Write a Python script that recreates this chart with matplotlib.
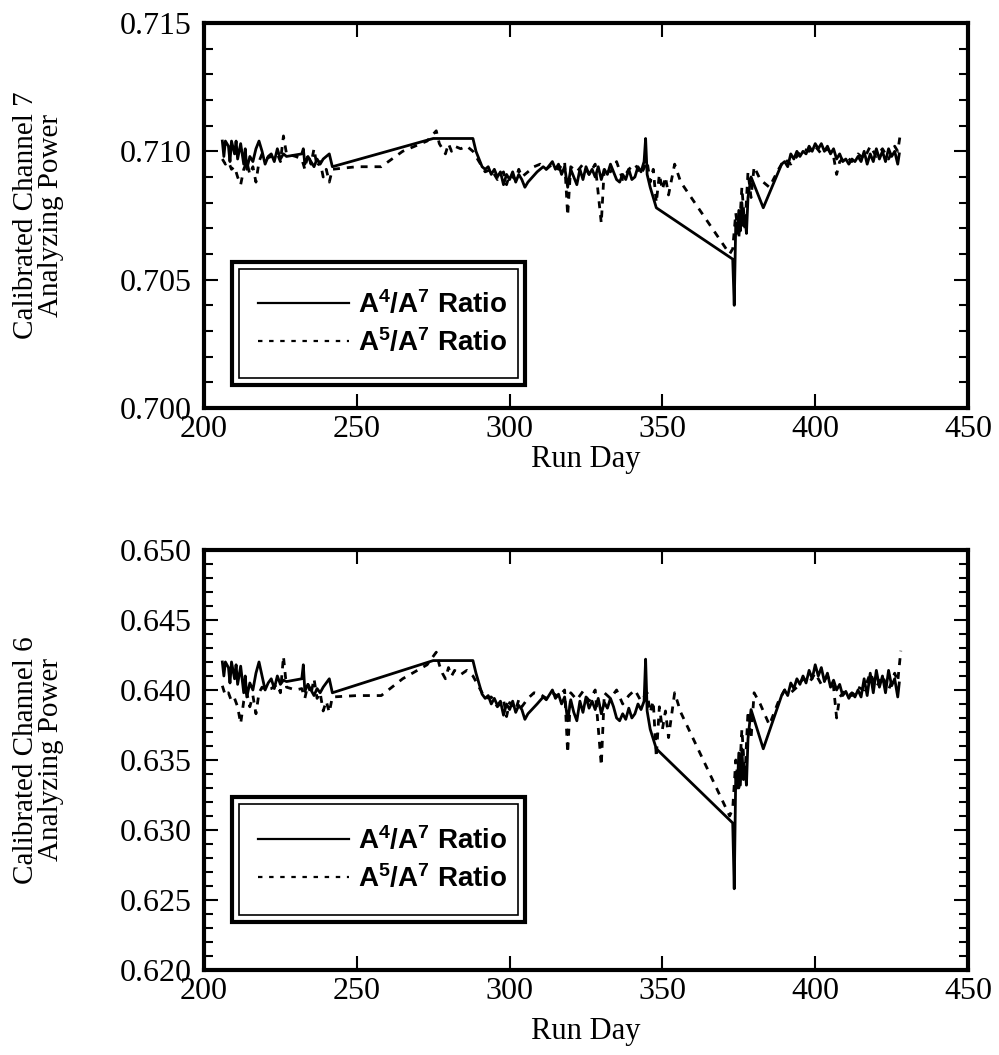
import matplotlib
matplotlib.use("Agg")
import matplotlib.pyplot as plt
from matplotlib.patches import Rectangle
from matplotlib.ticker import MultipleLocator, FormatStrFormatter
from matplotlib.lines import Line2D

plt.rcParams['font.family'] = ['Liberation Serif', 'DejaVu Serif']
plt.rcParams['mathtext.fontset'] = 'custom'
plt.rcParams['mathtext.rm'] = 'Liberation Sans:bold'
plt.rcParams['mathtext.it'] = 'Liberation Sans:bold'

# ---- data ----------------------------------------------------------------
# A4/A7 ratio (solid)
days_a4 = [206, 206.5, 207, 208, 208.5, 209, 210, 210.5, 211, 212, 213, 213.5, 214, 215, 216,
           217, 218, 219, 220, 221, 222, 223, 224, 225, 226, 227, 232, 232.5, 233, 234, 235,
           236, 237, 238, 239, 241, 242, 275, 288, 289, 291, 292, 293, 294, 295, 296, 297,
           298, 299, 300, 301, 302, 303, 304, 305, 306, 309, 311, 312, 314, 315, 316, 317,
           318, 319, 320, 321, 322, 323, 324, 325, 326, 327, 328, 329, 330, 331, 332, 333,
           334, 335, 336, 337, 338, 339, 340, 341, 342, 343, 344, 344.5, 345, 346, 348, 373,
           373.5, 374, 374.5, 375, 375.5, 376, 376.5, 377, 377.5, 378, 379, 383, 389, 390,
           391, 392, 393, 394, 395, 396, 397, 398, 399, 400, 401, 402, 403, 404, 405, 406,
           407, 408, 409, 410, 411, 412, 413, 414, 415, 416, 417, 418, 419, 420, 421, 422,
           423, 424, 425, 426, 427, 427.5]
ch7_a4 = [0.7104, 0.7098, 0.7104, 0.7102, 0.7096, 0.7104, 0.7099, 0.7104, 0.7097, 0.7103,
          0.7095, 0.7101, 0.7093, 0.7098, 0.7096, 0.7101, 0.7104, 0.7100, 0.7095, 0.7098,
          0.7099, 0.7096, 0.7101, 0.7097, 0.7099, 0.7098, 0.7099, 0.7101, 0.7095, 0.7098,
          0.7096, 0.7094, 0.7097, 0.7095, 0.7097, 0.7099, 0.7094, 0.7105, 0.7105, 0.7100,
          0.7094, 0.7093, 0.7094, 0.7091, 0.7093, 0.7090, 0.7092, 0.7087, 0.7091, 0.7089,
          0.7092, 0.7088, 0.7091, 0.7089, 0.7086, 0.7088, 0.7092, 0.7094, 0.7093, 0.7096,
          0.7093, 0.7095, 0.7091, 0.7094, 0.7086, 0.7093, 0.7090, 0.7087, 0.7093, 0.7089,
          0.7094, 0.7091, 0.7093, 0.7090, 0.7094, 0.7089, 0.7093, 0.7091, 0.7095, 0.7092,
          0.7089, 0.7088, 0.7091, 0.7089, 0.7093, 0.7089, 0.7090, 0.7094, 0.7092, 0.7096,
          0.7105, 0.7091, 0.7086, 0.7078, 0.7058, 0.7040, 0.7072, 0.7068, 0.7077, 0.7069,
          0.7080, 0.7071, 0.7075, 0.7068, 0.7082, 0.7090, 0.7078, 0.7095, 0.7096, 0.7094,
          0.7099, 0.7097, 0.7100, 0.7098, 0.7100, 0.7099, 0.7102, 0.7100, 0.7103, 0.7101,
          0.7103, 0.7100, 0.7102, 0.7099, 0.7101, 0.7097, 0.7099, 0.7096, 0.7097, 0.7095,
          0.7097, 0.7096, 0.7098, 0.7096, 0.7100, 0.7095, 0.7099, 0.7096, 0.7101, 0.7097,
          0.7100, 0.7096, 0.7101, 0.7098, 0.7100, 0.7095, 0.7099]
ch6_a4 = [0.6420, 0.6410, 0.6420, 0.6416, 0.6405, 0.6420, 0.6408, 0.6418, 0.6404, 0.6417,
          0.6398, 0.6410, 0.6395, 0.6405, 0.6400, 0.6412, 0.6420, 0.6410, 0.6400, 0.6405,
          0.6408, 0.6401, 0.6410, 0.6404, 0.6407, 0.6406, 0.6408, 0.6418, 0.6399, 0.6404,
          0.6400, 0.6396, 0.6401, 0.6398, 0.6402, 0.6408, 0.6398, 0.6421, 0.6421, 0.6412,
          0.6397, 0.6394, 0.6396, 0.6390, 0.6394, 0.6389, 0.6392, 0.6382, 0.6390, 0.6386,
          0.6392, 0.6384, 0.6389, 0.6386, 0.6379, 0.6383, 0.6390, 0.6395, 0.6393, 0.6400,
          0.6394, 0.6397, 0.6390, 0.6395, 0.6378, 0.6393, 0.6384, 0.6378, 0.6392, 0.6384,
          0.6395, 0.6387, 0.6392, 0.6386, 0.6394, 0.6383, 0.6391, 0.6387, 0.6394, 0.6388,
          0.6380, 0.6378, 0.6383, 0.6379, 0.6387, 0.6380, 0.6383, 0.6390, 0.6386, 0.6392,
          0.6422, 0.6385, 0.6372, 0.6358, 0.6305, 0.6258, 0.6340, 0.6330, 0.6355, 0.6332,
          0.6358, 0.6336, 0.6345, 0.6332, 0.6365, 0.6386, 0.6358, 0.6396, 0.6400, 0.6396,
          0.6405, 0.6401, 0.6408, 0.6404, 0.6410, 0.6405, 0.6414, 0.6408, 0.6418, 0.6410,
          0.6416, 0.6406, 0.6412, 0.6402, 0.6407, 0.6400, 0.6404, 0.6396, 0.6399, 0.6394,
          0.6398, 0.6395, 0.6400, 0.6395, 0.6408, 0.6396, 0.6412, 0.6398, 0.6414, 0.6402,
          0.6410, 0.6398, 0.6414, 0.6403, 0.6408, 0.6395, 0.6405]

# A5/A7 ratio (dashed)
days_a5 = [206, 207, 208, 209, 210, 211, 212, 213, 214, 215, 216, 217, 218, 219, 220, 222,
           224, 225, 226, 227, 230, 232, 233, 234, 235, 236, 237, 238, 239, 240, 241, 242,
           250, 258, 265, 273, 276, 277, 278, 279, 280, 281, 282, 284, 286, 288, 290, 292,
           294, 296, 298, 299, 300, 302, 303, 304, 306, 308, 310, 312, 314, 316, 318, 319,
           320, 322, 324, 326, 328, 330, 331, 333, 335, 337, 339, 341, 343, 345, 346, 347,
           348, 349, 350, 351, 352, 353, 354, 356, 372, 373, 374, 375, 376, 377, 378, 379,
           380, 382, 385, 388, 390, 392, 394, 396, 398, 400, 402, 404, 406, 407, 408, 410,
           412, 414, 416, 418, 420, 422, 424, 426, 427, 428]
ch7_a5 = [0.7097, 0.7095, 0.7096, 0.7093, 0.7094, 0.7090, 0.7087, 0.7093, 0.7096, 0.7091,
          0.7094, 0.7088, 0.7096, 0.7099, 0.7097, 0.7098, 0.7099, 0.7096, 0.7106, 0.7099,
          0.7098, 0.7097, 0.7093, 0.7099, 0.7095, 0.7101, 0.7094, 0.7096, 0.7090, 0.7093,
          0.7088, 0.7093, 0.7094, 0.7094, 0.7100, 0.7104, 0.7108, 0.7103, 0.7101, 0.7099,
          0.7103, 0.7100, 0.7102, 0.7101, 0.7102, 0.7100, 0.7096, 0.7092, 0.7093, 0.7089,
          0.7092, 0.7087, 0.7091, 0.7089, 0.7093, 0.7090, 0.7092, 0.7094, 0.7095, 0.7093,
          0.7095, 0.7093, 0.7096, 0.7075, 0.7094, 0.7092, 0.7095, 0.7091, 0.7095, 0.7072,
          0.7094, 0.7092, 0.7096, 0.7089, 0.7093, 0.7095, 0.7091, 0.7096, 0.7088, 0.7093,
          0.7080, 0.7091, 0.7085, 0.7090, 0.7083, 0.7089, 0.7095, 0.7088, 0.7060, 0.7062,
          0.7076, 0.7066, 0.7086, 0.7070, 0.7092, 0.7082, 0.7094, 0.7089, 0.7086, 0.7093,
          0.7097, 0.7095, 0.7098, 0.7101, 0.7100, 0.7102, 0.7099, 0.7101, 0.7098, 0.7091,
          0.7096, 0.7098, 0.7096, 0.7099, 0.7097, 0.7102, 0.7098, 0.7101, 0.7097, 0.7102,
          0.7100, 0.7108]
ch6_a5 = [0.6403, 0.6396, 0.6398, 0.6392, 0.6394, 0.6388, 0.6376, 0.6392, 0.6398, 0.6388,
          0.6396, 0.6383, 0.6398, 0.6402, 0.6400, 0.6401, 0.6404, 0.6398, 0.6424, 0.6402,
          0.6400, 0.6401, 0.6394, 0.6404, 0.6397, 0.6408, 0.6394, 0.6398, 0.6385, 0.6392,
          0.6384, 0.6395, 0.6396, 0.6396, 0.6408, 0.6418, 0.6427, 0.6418, 0.6412, 0.6408,
          0.6416, 0.6410, 0.6414, 0.6411, 0.6414, 0.6410, 0.6402, 0.6394, 0.6395, 0.6388,
          0.6393, 0.6381, 0.6391, 0.6386, 0.6393, 0.6388, 0.6394, 0.6398, 0.6397, 0.6394,
          0.6398, 0.6395, 0.6400, 0.6355, 0.6398, 0.6393, 0.6399, 0.6392, 0.6400, 0.6346,
          0.6398, 0.6394, 0.6400, 0.6390, 0.6396, 0.6400, 0.6392, 0.6398, 0.6384, 0.6392,
          0.6352, 0.6388, 0.6372, 0.6385, 0.6366, 0.6382, 0.6398, 0.6384, 0.6310, 0.6315,
          0.6350, 0.6330, 0.6372, 0.6338, 0.6385, 0.6365, 0.6398, 0.6390, 0.6375, 0.6392,
          0.6400, 0.6398, 0.6402, 0.6408, 0.6405, 0.6412, 0.6404, 0.6410, 0.6402, 0.6380,
          0.6395, 0.6400, 0.6396, 0.6402, 0.6400, 0.6412, 0.6402, 0.6410, 0.6400, 0.6412,
          0.6406, 0.6428]

panels = [
    (ch7_a4, ch7_a5, (0.700, 0.715), "Calibrated Channel 7\nAnalyzing Power"),
    (ch6_a4, ch6_a5, (0.620, 0.650), "Calibrated Channel 6\nAnalyzing Power"),
]
labels = [r"A$^{\mathrm{4}}$/A$^{\mathrm{7}}$ Ratio", r"A$^{\mathrm{5}}$/A$^{\mathrm{7}}$ Ratio"]

# ---- figure ---------------------------------------------------------------
fig = plt.figure(figsize=(9.99, 10.55), dpi=100)
# [left, bottom, width, height] in figure fraction
rects = [[0.2042, 0.6133, 0.7648, 0.3649],
         [0.2042, 0.0806, 0.7648, 0.3981]]
legend_boxes = [(0.037, 0.06, 0.383, 0.32), (0.037, 0.115, 0.383, 0.297)]
xlabel_pads = [1, 8]

for (a4, a5, ylim, ylab), r, lb, xpad in zip(panels, rects, legend_boxes, xlabel_pads):
    ax = fig.add_axes(r)
    ax.plot(days_a4, a4, color='black', lw=2.0)
    ax.plot(days_a5, a5, color='black', lw=2.0, dashes=(2.5, 2.5))

    ax.set_xlim(200, 450)
    ax.set_ylim(*ylim)
    ax.xaxis.set_major_locator(MultipleLocator(50))
    ax.yaxis.set_major_locator(MultipleLocator(0.005))
    ax.yaxis.set_minor_locator(MultipleLocator(0.001))
    ax.yaxis.set_major_formatter(FormatStrFormatter('%.3f'))
    ax.tick_params(which='both', direction='in', top=True, right=True,
                   labelsize=23, width=1.5)
    ax.tick_params(axis='y', pad=9)
    ax.tick_params(axis='x', pad=5)
    ax.tick_params(which='major', length=10)
    ax.tick_params(which='minor', length=6.5)
    for s in ax.spines.values():
        s.set_linewidth(3)

    ax.set_xlabel("Run Day", fontsize=22, labelpad=xpad)
    ax.set_ylabel(ylab, fontsize=21, linespacing=0.95)
    ax.yaxis.set_label_coords(-0.183, 0.5)

    # legend with a double border
    x0, y0, w, h = lb
    outer = Rectangle((x0, y0), w, h, transform=ax.transAxes, facecolor='white',
                      edgecolor='black', lw=3, zorder=5)
    dx, dy = 0.009, 0.018 * 385 / (r[3] * 1055)
    inner = Rectangle((x0 + dx, y0 + dy), w - 2 * dx, h - 2 * dy, transform=ax.transAxes,
                      facecolor='none', edgecolor='black', lw=1.2, zorder=6)
    ax.add_patch(outer)
    ax.add_patch(inner)
    handles = [Line2D([], [], color='black', lw=1.6),
               Line2D([], [], color='black', lw=1.6, dashes=(2, 3))]
    leg = ax.legend(handles, labels, loc='center', bbox_to_anchor=(x0 + w / 2 + 0.005, y0 + h / 2),
                    bbox_transform=ax.transAxes, frameon=False, handlelength=3.3,
                    handletextpad=0.3, labelspacing=0.33,
                    prop={'family': 'Liberation Sans', 'weight': 'bold', 'size': 20})
    leg.set_zorder(7)

fig.savefig("out.png", dpi=100)
